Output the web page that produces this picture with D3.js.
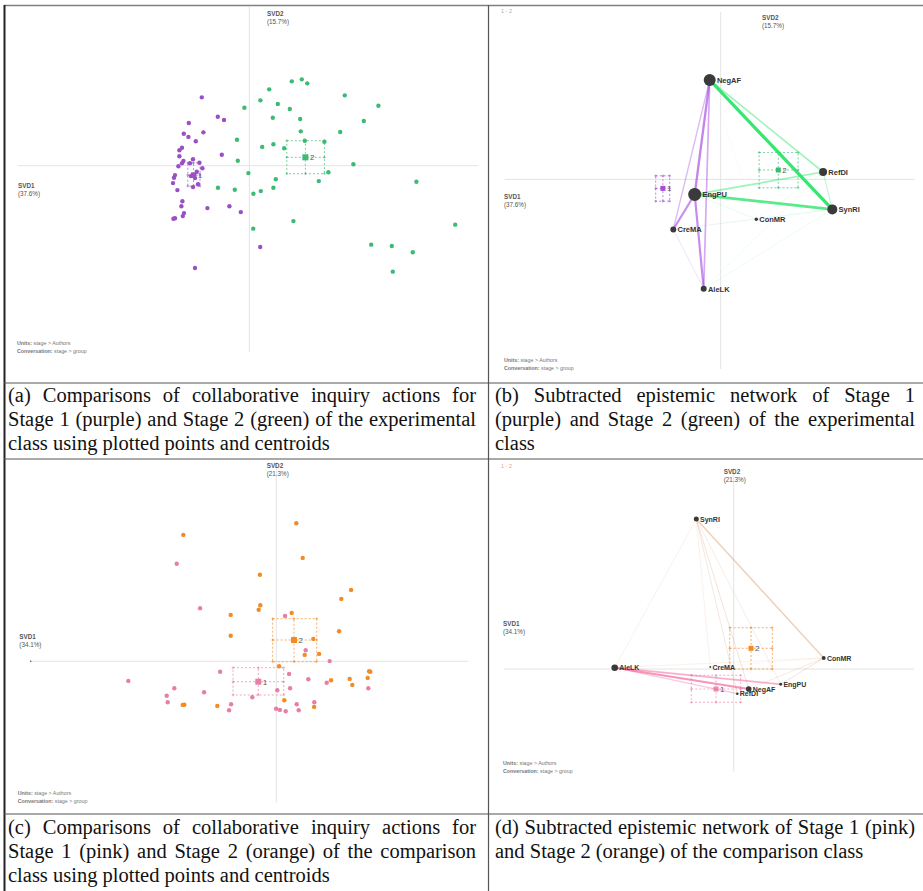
<!DOCTYPE html>
<html lang="en">
<head>
<meta charset="UTF-8">
<title>ENA stage comparison</title>
<script src="https://d3js.org/d3.v7.min.js"></script>
<style>
  body { margin: 0; background: #fff; }
  #page { position: relative; width: 923px; height: 891px; overflow: hidden; }
  #page svg { position: absolute; left: 0; top: 0; }
  .caption {
    position: absolute;
    font-family: "Liberation Serif", "Times New Roman", serif;
    font-size: 20.5px;
    line-height: 24px;
    color: #111;
  }
  .caption .j { text-align: justify; text-align-last: justify; }
</style>
</head>
<body>
<div id="page"></div>
<script>
// ---- data: (a) experimental class, points in SVD1/SVD2 space ----
const aStage1 = [
  [-0.238, 0.342], [-0.158, 0.245], [-0.127, 0.229], [-0.303, 0.214], [-0.230, 0.167],
  [-0.328, 0.160], [-0.305, 0.144], [-0.268, 0.122], [-0.337, 0.090], [-0.350, 0.077],
  [-0.138, 0.055], [-0.350, 0.047], [-0.330, 0.024], [-0.337, 0.012], [-0.355, -0.003],
  [-0.282, 0.032], [-0.297, 0.012], [-0.250, 0.015], [-0.235, -0.013], [-0.372, -0.047],
  [-0.377, -0.060], [-0.382, -0.087], [-0.263, -0.030], [-0.292, -0.052], [-0.272, -0.062],
  [-0.257, -0.093], [-0.282, -0.107], [-0.360, -0.122], [-0.335, -0.178], [-0.340, -0.203],
  [-0.210, -0.212], [-0.100, -0.203], [-0.043, -0.232], [-0.327, -0.237], [-0.333, -0.252],
  [-0.372, -0.263], [-0.380, -0.265], [0.054, -0.407], [-0.272, -0.512]
];
const aStage2 = [
  [0.212, 0.422], [0.262, 0.432], [0.289, 0.412], [0.099, 0.382], [0.477, 0.352],
  [0.055, 0.327], [0.142, 0.309], [0.645, 0.300], [-0.025, 0.290], [0.202, 0.284],
  [0.117, 0.240], [0.254, 0.234], [0.572, 0.224], [0.257, 0.172], [0.454, 0.169],
  [-0.062, 0.130], [0.277, 0.125], [0.375, 0.120], [0.064, 0.094], [0.120, 0.107],
  [0.174, 0.087], [-0.058, 0.025], [0.520, 0.007], [-0.005, -0.037], [0.395, -0.033],
  [0.347, -0.077], [0.132, -0.068], [-0.157, -0.110], [-0.073, -0.120], [0.120, -0.110],
  [0.057, -0.127], [0.020, -0.140], [0.835, -0.080], [0.019, -0.315], [0.220, -0.277],
  [1.029, -0.295], [0.609, -0.395], [0.712, -0.402], [0.817, -0.433], [0.717, -0.530]
];
// group means: [label, x, y, ciX0, ciX1, ciY0, ciY1]
const aMeans = [
  ["1", -0.279, -0.047, -0.308, -0.247, -0.102, 0.014],
  ["2", 0.280, 0.042, 0.187, 0.375, -0.040, 0.125]
];

// ---- data: (b) subtracted network, experimental class ----
// [code, x, y, relative frequency]
const bNodes = [
  ["NegAF", -0.055, 0.497, 0.85],
  ["EngPU", -0.130, -0.075, 1.00],
  ["RefDI", 0.512, 0.037, 0.38],
  ["SynRI", 0.558, -0.150, 0.59],
  ["ConMR", 0.178, -0.199, 0.07],
  ["CreMA", -0.237, -0.250, 0.21],
  ["AleLK", -0.085, -0.547, 0.21]
];
// [from, to, weight]  negative = stage 1 stronger, positive = stage 2 stronger
const bEdges = [
  ["NegAF", "ConMR", 0.05], ["CreMA", "ConMR", -0.05], ["RefDI", "ConMR", 0.06],
  ["SynRI", "ConMR", 0.06], ["SynRI", "CreMA", 0.08], ["RefDI", "AleLK", 0.08],
  ["SynRI", "AleLK", 0.10], ["EngPU", "ConMR", 0.12], ["CreMA", "AleLK", -0.14],
  ["RefDI", "SynRI", 0.25], ["NegAF", "CreMA", -0.32], ["NegAF", "AleLK", -0.42],
  ["NegAF", "RefDI", 0.40], ["EngPU", "RefDI", 0.42], ["EngPU", "CreMA", -0.55],
  ["EngPU", "AleLK", -0.58], ["NegAF", "EngPU", -0.62], ["EngPU", "SynRI", 0.75],
  ["NegAF", "SynRI", 0.92]
];
const bMeans = [
  ["1", -0.289, -0.045, -0.325, -0.255, -0.109, 0.018],
  ["2", 0.288, 0.047, 0.192, 0.387, -0.042, 0.135]
];

// ---- data: (c) comparison class ----
const cStage1 = [
  [-0.498, 0.488], [-0.381, 0.265], [0.044, 0.227], [0.147, 0.055], [0.267, 0.001],
  [-0.281, -0.052], [0.064, -0.063], [0.160, -0.090], [0.252, -0.107], [-0.740, -0.098],
  [-0.510, -0.135], [0.069, -0.135], [0.460, -0.135], [-0.361, -0.155], [-0.548, -0.172],
  [0.005, -0.145], [-0.120, -0.180], [-0.543, -0.205], [-0.226, -0.215], [0.102, -0.215],
  [0.190, -0.205], [-0.236, -0.245], [-0.001, -0.237], [0.018, -0.243], [0.047, -0.250],
  [0.112, -0.245]
];
const cStage2 = [
  [0.100, 0.690], [-0.465, 0.632], [0.132, 0.517], [-0.082, 0.433], [0.374, 0.357],
  [0.325, 0.312], [-0.080, 0.280], [-0.088, 0.258], [0.077, 0.242], [-0.228, 0.232],
  [0.314, 0.150], [-0.228, 0.128], [0.185, 0.112], [0.142, 0.032], [0.214, 0.037],
  [0.014, -0.025], [0.464, -0.050], [0.470, -0.052], [0.457, -0.083], [0.367, -0.088],
  [0.274, -0.095], [0.380, -0.118], [0.040, -0.195], [0.189, -0.228], [-0.295, -0.223],
  [-0.468, -0.218], [-0.460, -0.217]
];
const cMeans = [
  ["1", -0.090, -0.102, -0.2165, 0.037, -0.1685, -0.032],
  ["2", 0.0885, 0.1065, -0.018, 0.202, -0.002, 0.213]
];

// ---- data: (d) subtracted network, comparison class ----
const dNodes = [
  ["SynRI", -0.187, 0.750, 0.148],
  ["AleLK", -0.595, 0.0065, 0.258],
  ["CreMA", -0.117, 0.010, 0.019],
  ["ConMR", 0.450, 0.055, 0.095],
  ["EngPU", 0.235, -0.0765, 0.053],
  ["NegAF", 0.075, -0.100, 0.186],
  ["RefDI", 0.018, -0.1235, 0.040]
];
const dEdges = [
  ["ConMR", "CreMA", 0.06], ["SynRI", "AleLK", 0.12], ["ConMR", "AleLK", 0.12],
  ["SynRI", "CreMA", 0.12], ["SynRI", "EngPU", 0.15], ["SynRI", "RefDI", 0.18],
  ["SynRI", "NegAF", 0.20], ["ConMR", "NegAF", 0.16], ["ConMR", "EngPU", 0.20],
  ["SynRI", "ConMR", 0.36], ["AleLK", "RefDI", -0.28], ["AleLK", "EngPU", -0.42],
  ["AleLK", "NegAF", -0.58]
];
const dMeans = [
  ["1", -0.0885, -0.100, -0.212, 0.035, -0.1665, -0.0315],
  ["2", 0.0865, 0.1035, -0.020, 0.193, 0.000, 0.2065]
];

const axisPct = { a: ["37.6%", "15.7%"], b: ["37.6%", "15.7%"], c: ["34.1%", "21.3%"], d: ["34.1%", "21.3%"] };

// ---- layout ----
const W = 923, H = 891;
const page = d3.select('#page');
const svg = page.append('svg').attr('width', W).attr('height', H);

const sans = 'Liberation Sans, Arial, sans-serif';

// table rules
const rules = svg.append('g');
rules.append('line').attr('x1', 4).attr('x2', W).attr('y1', 5.5).attr('y2', 5.5)
  .attr('stroke', '#808080').attr('stroke-width', 1.5);
rules.append('line').attr('x1', 4.5).attr('x2', 4.5).attr('y1', 5).attr('y2', H)
  .attr('stroke', '#222').attr('stroke-width', 2);
rules.append('line').attr('x1', 488.5).attr('x2', 488.5).attr('y1', 5).attr('y2', H)
  .attr('stroke', '#555').attr('stroke-width', 1.2);
[383, 459, 814].forEach(y => {
  rules.append('line').attr('x1', 4).attr('x2', W).attr('y1', y).attr('y2', y)
    .attr('stroke', '#555').attr('stroke-width', 1.2);
});

// panel frames: data extent of the axes and where they sit on the page
const panels = {
  a: { xd: [-1.157, 1.143], xr: [18, 478], yd: [-0.932, 0.794], yr: [352, 7],
       svd2: [267, 16], svd1: [18, 188], units: [17, 345] },
  b: { xd: [-1.08, 0.97], xr: [504.7, 914.7], yd: [-0.948, 0.837], yr: [369, 12],
       svd2: [762, 20], svd1: [504, 199], units: [504, 362], tag: ['#aaa', 501, 13] },
  c: { xd: [-1.228, 0.96], xr: [30.7, 468.3], yd: [-0.7085, 0.9965], yr: [803, 462],
       svd2: [266.7, 468], svd1: [19.3, 639], units: [17.7, 795], dot: true },
  d: { xd: [-1.1485, 0.9015], xr: [504, 914], yd: [-0.5135, 1.005], yr: [771.7, 468],
       svd2: [723.7, 474], svd1: [503, 626], units: [503, 765], tag: ['#f0a080', 501, 468] }
};

function frame(key) {
  const p = panels[key];
  const x = d3.scaleLinear().domain(p.xd).range(p.xr);
  const y = d3.scaleLinear().domain(p.yd).range(p.yr);
  const g = svg.append('g');
  g.append('line').attr('x1', x(p.xd[0])).attr('x2', x(p.xd[1])).attr('y1', y(0)).attr('y2', y(0))
    .attr('stroke', '#e4e4e4').attr('stroke-width', 1);
  g.append('line').attr('x1', x(0)).attr('x2', x(0)).attr('y1', y(p.yd[0])).attr('y2', y(p.yd[1]))
    .attr('stroke', '#e4e4e4').attr('stroke-width', 1);
  if (p.dot) {
    g.append('circle').attr('cx', x(p.xd[0])).attr('cy', y(0)).attr('r', 0.8).attr('fill', '#555');
  }
  const pct = axisPct[key];
  const lab = (xy, name, val) => {
    const t = g.append('text').attr('x', xy[0]).attr('y', xy[1])
      .attr('font-family', sans).attr('font-size', 6.3).attr('fill', '#555');
    t.append('tspan').attr('x', xy[0]).attr('font-weight', 'bold').text(name);
    t.append('tspan').attr('x', xy[0]).attr('dy', 7.5).text('(' + val + ')');
  };
  lab(p.svd2, 'SVD2', pct[1]);
  lab(p.svd1, 'SVD1', pct[0]);
  const u = g.append('text').attr('x', p.units[0]).attr('y', p.units[1])
    .attr('font-family', sans).attr('font-size', 5.3).attr('fill', '#777');
  u.append('tspan').attr('font-weight', 'bold').text('Units: ');
  u.append('tspan').text('stage > Authors');
  const c = g.append('text').attr('x', p.units[0]).attr('y', p.units[1] + 8)
    .attr('font-family', sans).attr('font-size', 5.3).attr('fill', '#777');
  c.append('tspan').attr('font-weight', 'bold').text('Conversation: ');
  c.append('tspan').text('stage > group');
  if (p.tag) {
    g.append('text').attr('x', p.tag[1]).attr('y', p.tag[2]).attr('font-family', sans)
      .attr('font-size', 5.5).attr('fill', p.tag[0]).text('1 - 2');
  }
  return { g, x, y };
}

function drawMean(f, m, color, size) {
  const [label, mx, my, x0, x1, y0, y1] = m;
  const { g, x, y } = f;
  const box = g.append('g').attr('stroke', color).attr('stroke-width', 0.8)
    .attr('fill', 'none').attr('stroke-dasharray', '2,2').attr('opacity', 0.85);
  box.append('rect').attr('x', x(x0)).attr('y', y(y1))
    .attr('width', x(x1) - x(x0)).attr('height', y(y0) - y(y1));
  box.append('line').attr('x1', x(x0)).attr('x2', x(x1)).attr('y1', y(my)).attr('y2', y(my));
  box.append('line').attr('x1', x(mx)).attr('x2', x(mx)).attr('y1', y(y0)).attr('y2', y(y1));
  const ticks = [];
  [x0, mx, x1].forEach(a => [y0, my, y1].forEach(b => { if (!(a === mx && b === my)) ticks.push([a, b]); }));
  g.append('g').attr('stroke', color).attr('stroke-width', 0.7).attr('opacity', 0.85)
    .selectAll('path').data(ticks).join('path')
    .attr('d', d => `M${x(d[0]) - 1.3},${y(d[1])}h2.6M${x(d[0])},${y(d[1]) - 1.3}v2.6`);
  g.append('rect').attr('x', x(mx) - size / 2).attr('y', y(my) - size / 2)
    .attr('width', size).attr('height', size).attr('fill', color);
  g.append('text').attr('x', x(mx) + size / 2 + 1.5).attr('y', y(my) + 3)
    .attr('font-family', sans).attr('font-size', 8).attr('fill', '#555').text(label);
}

function drawPoints(f, pts, color) {
  f.g.append('g').selectAll('circle').data(pts).join('circle')
    .attr('cx', d => f.x(d[0])).attr('cy', d => f.y(d[1])).attr('r', 2.2)
    .attr('fill', color);
}

const rNode = d3.scaleSqrt().domain([0, 1]).range([0, 6.5]);
const wEdge = d3.scaleLinear().domain([0, 1]).range([0.35, 3.5]);
const oEdge = d3.scaleLinear().domain([0, 1]).range([0.06, 1]);

function drawNetwork(f, nodes, edges, c1, c2, fs) {
  const pos = new Map(nodes.map(n => [n[0], n]));
  f.g.append('g').selectAll('line').data(edges).join('line')
    .attr('x1', d => f.x(pos.get(d[0])[1])).attr('y1', d => f.y(pos.get(d[0])[2]))
    .attr('x2', d => f.x(pos.get(d[1])[1])).attr('y2', d => f.y(pos.get(d[1])[2]))
    .attr('stroke', d => d[2] < 0 ? c1 : c2)
    .attr('stroke-width', d => wEdge(Math.abs(d[2])))
    .attr('stroke-opacity', d => oEdge(Math.abs(d[2])))
    .attr('stroke-linecap', 'round');
  const ng = f.g.append('g');
  ng.selectAll('circle').data(nodes).join('circle')
    .attr('cx', d => f.x(d[1])).attr('cy', d => f.y(d[2])).attr('r', d => rNode(d[3]))
    .attr('fill', '#3a3a3a');
  ng.selectAll('text').data(nodes).join('text')
    .attr('x', d => f.x(d[1]) + rNode(d[3]) + 1.2).attr('y', d => f.y(d[2]) + fs * 0.36)
    .attr('font-family', sans).attr('font-size', fs).attr('font-weight', 'bold')
    .attr('fill', '#333').text(d => d[0]);
}

// (a)
const fa = frame('a');
drawPoints(fa, aStage2, '#3dba74');
drawPoints(fa, aStage1, '#9a50c4');
drawMean(fa, aMeans[0], '#9a50c4', 5.5);
drawMean(fa, aMeans[1], '#3dba74', 6);

// (b)
const fb = frame('b');
drawMean(fb, bMeans[0], '#a44fd6', 5);
drawMean(fb, bMeans[1], '#3dba74', 5);
drawNetwork(fb, bNodes, bEdges, '#a23fe0', '#26e466', 7.5);

// (c)
const fc = frame('c');
drawPoints(fc, cStage1, '#e77ea6');
drawPoints(fc, cStage2, '#f58a24');
drawMean(fc, cMeans[0], '#e77ea6', 6);
drawMean(fc, cMeans[1], '#f58a24', 6);

// (d)
const fd = frame('d');
drawMean(fd, dMeans[0], '#ee8ab0', 5);
drawMean(fd, dMeans[1], '#f58a24', 5);
drawNetwork(fd, dNodes, dEdges, '#f2508c', '#d48c58', 7);

// captions
const captions = [
  { left: 8, top: 383, width: 468, lines: [
    '(a) Comparisons of collaborative inquiry actions for',
    'Stage 1 (purple) and Stage 2 (green) of the experimental',
    'class using plotted points and centroids'] },
  { left: 495, top: 383, width: 420, lines: [
    '(b) Subtracted epistemic network of Stage 1',
    '(purple) and Stage 2 (green) of the experimental',
    'class'] },
  { left: 8, top: 815, width: 468, lines: [
    '(c) Comparisons of collaborative inquiry actions for',
    'Stage 1 (pink) and Stage 2 (orange) of the comparison',
    'class using plotted points and centroids'] },
  { left: 495, top: 815, width: 420, lines: [
    '(d) Subtracted epistemic network of Stage 1 (pink)',
    'and Stage 2 (orange) of the comparison class'] }
];
captions.forEach(c => {
  const div = page.append('div').attr('class', 'caption')
    .style('left', c.left + 'px').style('top', c.top + 'px').style('width', c.width + 'px');
  c.lines.forEach((t, i) => {
    div.append('div').attr('class', i < c.lines.length - 1 ? 'j' : null).text(t);
  });
});
</script>
</body>
</html>
